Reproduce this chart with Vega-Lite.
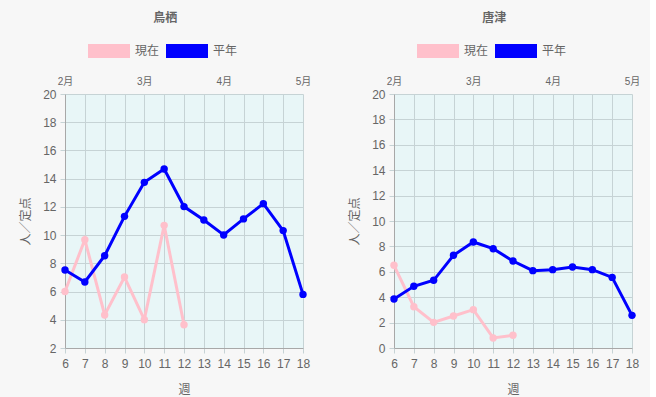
{
  "$schema": "https://vega.github.io/schema/vega-lite/v6.json",
  "background": "#f7f7f7",
  "padding": {"left": 19, "top": 12, "right": 10, "bottom": 4},
  "datasets": {
    "tosu": [
      {"week": 6, "series": "現在", "value": 6.0},
      {"week": 7, "series": "現在", "value": 9.68},
      {"week": 8, "series": "現在", "value": 4.34},
      {"week": 9, "series": "現在", "value": 7.03},
      {"week": 10, "series": "現在", "value": 4.01},
      {"week": 11, "series": "現在", "value": 10.69},
      {"week": 12, "series": "現在", "value": 3.65},
      {"week": 6, "series": "平年", "value": 7.53},
      {"week": 7, "series": "平年", "value": 6.68},
      {"week": 8, "series": "平年", "value": 8.54},
      {"week": 9, "series": "平年", "value": 11.33},
      {"week": 10, "series": "平年", "value": 13.74},
      {"week": 11, "series": "平年", "value": 14.69},
      {"week": 12, "series": "平年", "value": 12.02},
      {"week": 13, "series": "平年", "value": 11.07},
      {"week": 14, "series": "平年", "value": 10.01},
      {"week": 15, "series": "平年", "value": 11.15},
      {"week": 16, "series": "平年", "value": 12.23},
      {"week": 17, "series": "平年", "value": 10.32},
      {"week": 18, "series": "平年", "value": 5.8}
    ],
    "karatsu": [
      {"week": 6, "series": "現在", "value": 6.51},
      {"week": 7, "series": "現在", "value": 3.25},
      {"week": 8, "series": "現在", "value": 2.02},
      {"week": 9, "series": "現在", "value": 2.52},
      {"week": 10, "series": "現在", "value": 3.02},
      {"week": 11, "series": "現在", "value": 0.79},
      {"week": 12, "series": "現在", "value": 1.0},
      {"week": 6, "series": "平年", "value": 3.86},
      {"week": 7, "series": "平年", "value": 4.86},
      {"week": 8, "series": "平年", "value": 5.33},
      {"week": 9, "series": "平年", "value": 7.3},
      {"week": 10, "series": "平年", "value": 8.35},
      {"week": 11, "series": "平年", "value": 7.82},
      {"week": 12, "series": "平年", "value": 6.85},
      {"week": 13, "series": "平年", "value": 6.09},
      {"week": 14, "series": "平年", "value": 6.17},
      {"week": 15, "series": "平年", "value": 6.38},
      {"week": 16, "series": "平年", "value": 6.17},
      {"week": 17, "series": "平年", "value": 5.56},
      {"week": 18, "series": "平年", "value": 2.57}
    ]
  },
  "spacing": 37,
  "hconcat": [
    {
      "width": 238,
      "height": 254,
      "title": {"text": "鳥栖", "frame": "bounds"},
      "data": {"name": "tosu"},
      "layer": [
        {
          "transform": [{"filter": "datum.series === '現在'"}],
          "mark": {"type": "line", "strokeWidth": 3},
          "encoding": {
            "x": {"field": "week", "type": "quantitative", "scale": {"domain": [6, 18], "nice": false, "zero": false},
              "axis": {"values": [6,7,8,9,10,11,12,13,14,15,16,17,18], "title": "週", "titlePadding": 15, "labelPadding": 5, "labelOverlap": false}},
            "y": {"field": "value", "type": "quantitative", "scale": {"domain": [2, 20], "nice": false, "zero": false},
              "axis": {"values": [2,4,6,8,10,12,14,16,18,20], "title": "人／定点", "titlePadding": 10, "labelPadding": 4, "labelOverlap": false}},
            "stroke": {"field": "series", "type": "nominal", "scale": {"domain": ["現在", "平年"], "range": ["#ffc0cb", "#0000ff"]},
              "legend": {"title": null, "orient": "none", "legendX": 23, "legendY": -64, "direction": "horizontal"}}
          }
        },
        {
          "transform": [{"filter": "datum.series === '現在'"}],
          "mark": {"type": "circle", "size": 55, "opacity": 1},
          "encoding": {
            "x": {"field": "week", "type": "quantitative", "axis": null},
            "y": {"field": "value", "type": "quantitative",
              "axis": {"values": [2,4,6,8,10,12,14,16,18,20], "title": "人／定点", "titlePadding": 10, "labelPadding": 4, "labelOverlap": false}},
            "fill": {"field": "series", "type": "nominal", "scale": {"domain": ["現在", "平年"], "range": ["#ffc0cb", "#0000ff"]},
              "legend": {"title": null, "orient": "none", "legendX": 23, "legendY": -64, "direction": "horizontal"}}
          }
        },
        {
          "transform": [{"filter": "datum.series === '平年'"}],
          "mark": {"type": "line", "strokeWidth": 3},
          "encoding": {
            "x": {"field": "week", "type": "quantitative", "axis": null},
            "y": {"field": "value", "type": "quantitative",
              "axis": {"values": [2,4,6,8,10,12,14,16,18,20], "title": "人／定点", "titlePadding": 10, "labelPadding": 4, "labelOverlap": false}},
            "stroke": {"field": "series", "type": "nominal",
              "legend": {"title": null, "orient": "none", "legendX": 23, "legendY": -64, "direction": "horizontal"}}
          }
        },
        {
          "transform": [{"filter": "datum.series === '平年'"}],
          "mark": {"type": "circle", "size": 55, "opacity": 1},
          "encoding": {
            "x": {"field": "week", "type": "quantitative",
              "axis": {"orient": "top", "values": [6, 10, 14, 18], "labelExpr": "datum.value == 6 ? '2月' : datum.value == 10 ? '3月' : datum.value == 14 ? '4月' : '5月'", "grid": false, "domain": false, "ticks": false, "labelFontSize": 10, "labelPadding": 8, "labelOverlap": false, "title": null}},
            "y": {"field": "value", "type": "quantitative",
              "axis": {"values": [2,4,6,8,10,12,14,16,18,20], "title": "人／定点", "titlePadding": 10, "labelPadding": 4, "labelOverlap": false}},
            "fill": {"field": "series", "type": "nominal",
              "legend": {"title": null, "orient": "none", "legendX": 23, "legendY": -64, "direction": "horizontal"}}
          }
        }
      ],
      "resolve": {"axis": {"x": "independent"}}
    },
    {
      "width": 238,
      "height": 254,
      "title": {"text": "唐津", "frame": "bounds"},
      "data": {"name": "karatsu"},
      "layer": [
        {
          "transform": [{"filter": "datum.series === '現在'"}],
          "mark": {"type": "line", "strokeWidth": 3},
          "encoding": {
            "x": {"field": "week", "type": "quantitative", "scale": {"domain": [6, 18], "nice": false, "zero": false},
              "axis": {"values": [6,7,8,9,10,11,12,13,14,15,16,17,18], "title": "週", "titlePadding": 15, "labelPadding": 5, "labelOverlap": false}},
            "y": {"field": "value", "type": "quantitative", "scale": {"domain": [0, 20], "nice": false},
              "axis": {"values": [0,2,4,6,8,10,12,14,16,18,20], "title": "人／定点", "titlePadding": 10, "labelPadding": 4, "labelOverlap": false}},
            "stroke": {"field": "series", "type": "nominal", "scale": {"domain": ["現在", "平年"], "range": ["#ffc0cb", "#0000ff"]},
              "legend": {"title": null, "orient": "none", "legendX": 23, "legendY": -64, "direction": "horizontal"}}
          }
        },
        {
          "transform": [{"filter": "datum.series === '現在'"}],
          "mark": {"type": "circle", "size": 55, "opacity": 1},
          "encoding": {
            "x": {"field": "week", "type": "quantitative", "axis": null},
            "y": {"field": "value", "type": "quantitative",
              "axis": {"values": [0,2,4,6,8,10,12,14,16,18,20], "title": "人／定点", "titlePadding": 10, "labelPadding": 4, "labelOverlap": false}},
            "fill": {"field": "series", "type": "nominal", "scale": {"domain": ["現在", "平年"], "range": ["#ffc0cb", "#0000ff"]},
              "legend": {"title": null, "orient": "none", "legendX": 23, "legendY": -64, "direction": "horizontal"}}
          }
        },
        {
          "transform": [{"filter": "datum.series === '平年'"}],
          "mark": {"type": "line", "strokeWidth": 3},
          "encoding": {
            "x": {"field": "week", "type": "quantitative", "axis": null},
            "y": {"field": "value", "type": "quantitative",
              "axis": {"values": [0,2,4,6,8,10,12,14,16,18,20], "title": "人／定点", "titlePadding": 10, "labelPadding": 4, "labelOverlap": false}},
            "stroke": {"field": "series", "type": "nominal",
              "legend": {"title": null, "orient": "none", "legendX": 23, "legendY": -64, "direction": "horizontal"}}
          }
        },
        {
          "transform": [{"filter": "datum.series === '平年'"}],
          "mark": {"type": "circle", "size": 55, "opacity": 1},
          "encoding": {
            "x": {"field": "week", "type": "quantitative",
              "axis": {"orient": "top", "values": [6, 10, 14, 18], "labelExpr": "datum.value == 6 ? '2月' : datum.value == 10 ? '3月' : datum.value == 14 ? '4月' : '5月'", "grid": false, "domain": false, "ticks": false, "labelFontSize": 10, "labelPadding": 8, "labelOverlap": false, "title": null}},
            "y": {"field": "value", "type": "quantitative",
              "axis": {"values": [0,2,4,6,8,10,12,14,16,18,20], "title": "人／定点", "titlePadding": 10, "labelPadding": 4, "labelOverlap": false}},
            "fill": {"field": "series", "type": "nominal",
              "legend": {"title": null, "orient": "none", "legendX": 23, "legendY": -64, "direction": "horizontal"}}
          }
        }
      ],
      "resolve": {"axis": {"x": "independent"}}
    }
  ],
  "resolve": {"scale": {"fill": "independent", "stroke": "independent"}, "legend": {"fill": "independent", "stroke": "independent"}},
  "config": {
    "font": "Liberation Sans, Noto Sans CJK JP, sans-serif",
    "view": {"fill": "#e8f6f7", "stroke": null},
    "axis": {
      "labelColor": "#666666", "titleColor": "#666666", "labelFontSize": 12, "titleFontSize": 12,
      "titleFontWeight": "normal", "gridColor": "#c6d3d5", "gridOpacity": 1, "domainColor": "#a8a8a8",
      "tickColor": "#c6d3d5", "tickSize": 5, "labelFlush": false
    },
    "title": {"fontSize": 12, "fontWeight": "bold", "color": "#666666", "anchor": "middle", "offset": 5},
    "legend": {
      "symbolType": "M-1,-0.333H1V0.333H-1Z", "symbolSize": 1764, "symbolStrokeWidth": 0, "symbolOpacity": 1,
      "labelFontSize": 12, "labelColor": "#666666", "columnPadding": 6, "labelOffset": 5
    }
  }
}
